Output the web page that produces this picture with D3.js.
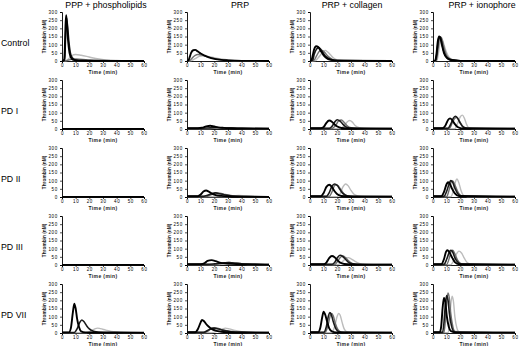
<!DOCTYPE html>
<html><head><meta charset="utf-8">
<script src="https://cdn.jsdelivr.net/npm/d3@7"></script>
<style>body{margin:0;background:#fff}svg{display:block}</style>
</head><body><svg id="c" width="520" height="346"></svg>
<script>
const rowLabels = ["Control","PD I","PD II","PD III","PD VII"];
const colLabels = ["PPP + phospholipids","PRP","PRP + collagen","PRP + ionophore"];
const xTicks = [0,10,20,30,40,50,60];
const yTicks = [0,50,100,150,200,250,300];
const seriesKeys = ["D","C","B","A"];

// [time (min), thrombin (nM)]
const control_ppp = {
 A:[[0,0],[1.5,2],[2,60],[2.5,200],[3,280],[3.5,240],[4.5,120],[5.5,50],[7,15],[9,5],[12,2],[20,1],[60,0]],
 B:[[0,0],[2,10],[2.5,120],[3.2,265],[4,220],[5,120],[6,55],[7.5,20],[10,6],[15,2],[60,0]],
 C:[[0,0],[4,3],[7,10],[10,12],[15,10],[20,6],[30,3],[40,1],[60,0]],
 D:[[0,0],[3,2],[5,15],[7,32],[10,40],[14,35],[18,28],[22,20],[27,12],[32,7],[40,3],[50,1],[60,0]]};
const control_prp = {
 A:[[0,0],[1,3],[2,25],[3,50],[4.5,66],[6,68],[8,58],[10,46],[13,33],[16,22],[20,13],[25,7],[30,4],[40,1],[60,0]],
 C:[[0,0],[2,3],[4,20],[6,35],[8,40],[11,36],[15,25],[20,15],[25,8],[30,4],[40,1],[60,0]],
 D:[[0,0],[3,2],[6,15],[9,28],[12,32],[15,28],[20,20],[25,12],[30,6],[40,2],[60,0]]};
const control_col = {
 A:[[0,0],[1,4],[2,35],[3,70],[4.5,90],[6,85],[8,60],[10,35],[12,18],[15,7],[20,2],[60,0]],
 B:[[0,0],[2,5],[3,40],[5,75],[6.5,82],[8,70],[10,45],[12,25],[15,10],[20,2],[60,0]],
 C:[[0,0],[3,5],[5,35],[7,60],[9,65],[11,50],[13,30],[16,12],[20,3],[60,0]],
 D:[[0,0],[4,3],[6,20],[9,50],[11,65],[13,55],[15,38],[17,20],[20,7],[25,2],[60,0]]};
const control_ion = {
 A:[[0,0],[1.5,3],[2.5,40],[3.5,120],[4.5,150],[5.5,140],[6.5,100],[8,50],[10,20],[13,6],[20,1],[60,0]],
 B:[[0,0],[2,5],[3,60],[4,130],[5,148],[6,125],[7.5,70],[9,35],[12,10],[20,1],[60,0]],
 C:[[0,0],[2.5,5],[3.5,60],[5,140],[6,145],[7,120],[8.5,70],[10,35],[13,10],[20,1],[60,0]],
 D:[[0,0],[3,5],[4,50],[5.5,125],[6.5,135],[8,100],[10,50],[12,20],[15,6],[20,1],[60,0]]};

const pd1_ppp = {A:[[0,1],[60,1]]};
const pd1_prp = {
 A:[[0,5],[8,5],[11,8],[14,16],[17,20],[20,15],[23,10],[27,7],[32,5],[40,3],[60,2]],
 B:[[0,5],[10,5],[15,6],[20,8],[25,7],[30,6],[40,4],[60,3]],
 D:[[0,3],[15,3],[22,6],[28,7],[35,5],[45,3],[60,2]]};
const pd1_col = {
 A:[[0,5],[8,5],[10,12],[12,38],[14,52],[16,45],[18,28],[20,15],[23,6],[28,3],[60,2]],
 B:[[0,4],[14,4],[16,15],[18,42],[20,57],[22,48],[24,30],[26,15],[29,6],[35,3],[60,2]],
 C:[[0,3],[16,3],[19,25],[21,50],[23,55],[25,40],[27,22],[30,8],[35,3],[60,1]],
 D:[[0,2],[22,2],[25,20],[27,42],[29,52],[31,42],[33,22],[36,8],[40,3],[60,1]]};
const pd1_ion = {
 A:[[0,5],[7,5],[9,20],[11,55],[12.5,65],[14,55],[16,30],[18,12],[21,4],[60,2]],
 B:[[0,4],[11,4],[13,30],[15,68],[16.5,78],[18,65],[20,35],[22,12],[25,4],[60,2]],
 C:[[0,3],[12,3],[14,35],[16,65],[17.5,72],[19,55],[21,25],[24,6],[60,1]],
 D:[[0,2],[16,2],[18,35],[20,75],[21.5,85],[23,65],[24.5,30],[26,8],[29,2],[60,1]]};

const pd2_ppp = {A:[[0,1],[60,1]]};
const pd2_prp = {
 A:[[0,5],[8,5],[10,15],[12,33],[14,40],[16,33],[18,22],[21,12],[25,7],[30,4],[40,2],[60,1]],
 B:[[0,4],[12,4],[15,10],[18,20],[21,25],[24,20],[28,12],[33,6],[40,3],[60,1]],
 C:[[0,3],[14,3],[18,15],[21,25],[24,24],[28,15],[33,8],[40,3],[60,1]],
 D:[[0,2],[28,2],[34,6],[38,10],[42,7],[48,3],[60,1]]};
const pd2_col = {
 A:[[0,5],[8,5],[10,25],[12,62],[14,75],[16,62],[18,35],[20,17],[23,6],[28,3],[60,2]],
 B:[[0,4],[12,4],[14,25],[16,65],[18,80],[20,70],[22,45],[24,22],[27,8],[32,3],[60,2]],
 C:[[0,3],[14,3],[16,30],[18,70],[19.5,75],[21,65],[23,40],[26,12],[30,4],[60,1]],
 D:[[0,2],[20,2],[22,20],[24,60],[26,80],[28,68],[30,40],[32,18],[35,6],[40,2],[60,1]]};
const pd2_ion = {
 A:[[0,5],[6,5],[8,30],[10,80],[11,90],[12.5,78],[14,50],[16,22],[19,6],[60,2]],
 B:[[0,4],[8,4],[10,35],[12,85],[13,100],[14.5,88],[16,55],[18,22],[21,6],[60,2]],
 C:[[0,3],[10,3],[12,50],[13.5,95],[14.5,98],[16,75],[18,35],[21,8],[60,1]],
 D:[[0,2],[13,2],[15,40],[16.5,95],[17.5,110],[19,85],[20.5,40],[22,12],[25,3],[60,1]]};

const pd3_ppp = {A:[[0,1],[60,1]]};
const pd3_prp = {
 A:[[0,5],[10,5],[13,12],[15,25],[18,30],[21,24],[24,15],[27,10],[32,7],[40,4],[60,2]],
 B:[[0,4],[15,4],[20,7],[25,12],[30,15],[34,12],[40,7],[50,4],[60,3]],
 C:[[0,3],[20,3],[26,10],[31,15],[35,12],[40,8],[48,4],[60,2]],
 D:[[0,2],[22,2],[28,10],[32,14],[36,10],[42,5],[50,3],[60,2]]};
const pd3_col = {
 A:[[0,5],[10,5],[12,15],[14,42],[16,55],[18,48],[20,30],[22,15],[25,6],[30,3],[60,2]],
 B:[[0,4],[16,4],[18,15],[20,45],[22,60],[24,52],[26,35],[28,18],[31,7],[36,3],[60,2]],
 C:[[0,3],[18,3],[20,20],[22,45],[24,55],[26,45],[28,28],[31,10],[35,4],[60,1]],
 D:[[0,2],[20,2],[23,15],[26,38],[28,45],[30,38],[33,22],[36,10],[40,4],[60,1]]};
const pd3_ion = {
 A:[[0,5],[6,5],[8,35],[9.5,80],[10.5,90],[12,78],[14,45],[16,18],[19,5],[60,2]],
 B:[[0,4],[8,4],[10,35],[12,80],[13,90],[14.5,78],[16,45],[18,18],[21,5],[60,2]],
 C:[[0,3],[10,3],[12,45],[13.5,88],[14.5,90],[16,68],[18,30],[21,6],[60,1]],
 D:[[0,2],[13,2],[15,25],[17,65],[19,85],[21,72],[23,40],[25,15],[28,4],[60,1]]};

const pd7_ppp = {
 A:[[0,4],[5,4],[6.5,30],[8,130],[9,180],[10,150],[11,90],[12.5,35],[14,10],[17,4],[60,2]],
 B:[[0,3],[9,3],[11,25],[13,65],[14.5,80],[16,70],[18,45],[20,25],[23,10],[27,4],[35,2],[60,1]],
 D:[[0,2],[18,2],[21,12],[24,25],[26,30],[28,27],[32,18],[36,10],[42,5],[50,2],[60,1]]};
const pd7_prp = {
 A:[[0,5],[6,5],[8,25],[10,65],[11,80],[12.5,72],[14,55],[16,38],[18,25],[21,14],[25,8],[30,5],[40,3],[60,2]],
 B:[[0,4],[12,4],[15,15],[18,28],[20,30],[23,25],[27,15],[32,8],[40,4],[60,2]],
 C:[[0,3],[13,3],[16,15],[19,32],[22,30],[26,20],[30,12],[36,6],[45,3],[60,2]],
 D:[[0,2],[18,2],[22,12],[26,25],[28,30],[31,25],[35,15],[40,8],[48,3],[60,1]]};
const pd7_col = {
 A:[[0,5],[6,5],[7.5,30],[9,100],[10,130],[11,115],[12.5,70],[14,30],[16,10],[19,4],[60,2]],
 B:[[0,4],[10,4],[12,40],[13.5,105],[14.5,125],[15.5,115],[17,70],[19,25],[21,8],[25,3],[60,2]],
 C:[[0,3],[11,3],[13,40],[15,110],[16,120],[17,105],[18.5,60],[20.5,20],[23,5],[60,1]],
 D:[[0,2],[16,2],[18,40],[20,105],[21,120],[22,110],[23.5,65],[25,25],[27,7],[30,2],[60,1]]};
const pd7_ion = {
 A:[[0,5],[5,5],[6,40],[7,150],[8,215],[9,190],[10,110],[11.5,40],[13,12],[16,4],[60,2]],
 B:[[0,4],[7,4],[8,60],[9,170],[10,230],[11,200],[12,120],[13.5,45],[15,12],[18,3],[60,2]],
 C:[[0,3],[8,3],[9,70],[10,190],[11,245],[12,210],[13,120],[14.5,40],[16,10],[60,1]],
 D:[[0,2],[11,2],[12,50],[13,170],[14,225],[15,190],[16,100],[17.5,30],[19,8],[60,1]]};

const panels = [
 [control_ppp, control_prp, control_col, control_ion],
 [pd1_ppp, pd1_prp, pd1_col, pd1_ion],
 [pd2_ppp, pd2_prp, pd2_col, pd2_ion],
 [pd3_ppp, pd3_prp, pd3_col, pd3_ion],
 [pd7_ppp, pd7_prp, pd7_col, pd7_ion]];

// ---- layout & style ----
const colX = [62, 187, 310, 433];
const titleX = [106, 240, 352, 482];
const rowZero = [61, 129, 197, 265, 333];
const plotW = 82, plotH = 49;
const style = {
 A:{stroke:"#000", w:1.9},
 B:{stroke:"#1a1a1a", w:1.6},
 C:{stroke:"#6e6e6e", w:1.4},
 D:{stroke:"#bcbcbc", w:1.4}};
const font = "Liberation Sans, Arial, sans-serif";

const svg = d3.select("#c");
const x = d3.scaleLinear().domain([0,60]).range([0, plotW]);
const y = d3.scaleLinear().domain([0,300]).range([plotH, 0]);
const line = d3.line().x(d=>x(d[0])).y(d=>y(d[1])).curve(d3.curveMonotoneX);

colLabels.forEach((t,i)=>{
  svg.append("text").attr("x", titleX[i]).attr("y", 8).attr("text-anchor","middle")
    .attr("font-family", font).attr("font-size", 8.8).attr("fill","#000").text(t);
});
rowLabels.forEach((t,r)=>{
  svg.append("text").attr("x", 1).attr("y", rowZero[r]-15).attr("font-family", font)
    .attr("font-size", 8.8).attr("fill","#000").text(t);
});

panels.forEach((row, r)=>{
  row.forEach((pd, c)=>{
    const g = svg.append("g").attr("transform", `translate(${colX[c]},${rowZero[r]-plotH})`);
    const ya = g.append("g").call(d3.axisLeft(y).tickValues(yTicks).tickSize(2).tickPadding(2));
    const xa = g.append("g").attr("transform", `translate(0,${plotH})`)
      .call(d3.axisBottom(x).tickValues(xTicks).tickSize(2).tickPadding(1.2));
    [ya, xa].forEach(a=>{
      a.select(".domain").attr("stroke","#000").attr("stroke-width",0.9);
      a.selectAll(".tick line").attr("stroke","#000").attr("stroke-width",0.7);
      a.selectAll("text").attr("font-family", font).attr("font-size", 4.5)
        .attr("letter-spacing", 0.7).attr("fill","#000");
    });
    xa.selectAll("text").attr("dy", "0.6em");
    g.append("text").attr("transform", `translate(-16,${plotH/2}) rotate(-90)`)
      .attr("text-anchor","middle").attr("font-family", font).attr("font-size", 4.8)
      .attr("font-weight","bold").attr("fill","#222").text("Thrombin (nM)");
    g.append("text").attr("x", plotW/2).attr("y", plotH+12.8).attr("text-anchor","middle")
      .attr("font-family", font).attr("font-size", 5).attr("font-weight","bold")
      .attr("letter-spacing", 0.4).attr("fill","#222").text("Time (min)");
    seriesKeys.forEach(k=>{
      if (!pd[k]) return;
      g.append("path").datum(pd[k]).attr("d", line).attr("fill","none")
        .attr("stroke", style[k].stroke).attr("stroke-width", style[k].w)
        .attr("stroke-linejoin","round");
    });
  });
});
</script></body></html>
